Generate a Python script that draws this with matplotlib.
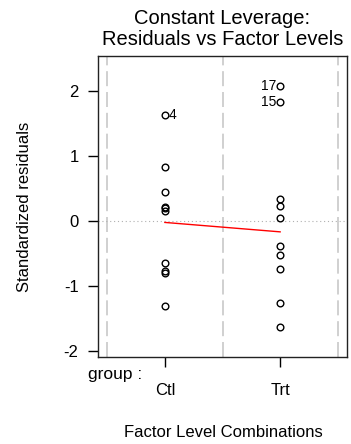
import matplotlib
matplotlib.use("Agg")
import matplotlib.pyplot as plt

plt.rcParams['font.family'] = ['Liberation Sans', 'DejaVu Sans']

# standardized residuals per observation (obs 1-10 = Ctl, 11-20 = Trt)
levels = ["Ctl", "Trt"]
ctl_resid = [-1.305, 0.829, 0.224, 1.632, -0.805, -0.639, 0.209, -0.760, 0.451, 0.163]
trt_resid = [0.226, -0.743, -0.380, -1.621, 1.830, -1.258, 2.072, 0.347, -0.516, 0.044]
labelled_obs = [4, 15, 17]
smooth_y = [-0.02, -0.165]
boundaries = [0.5, 1.5, 2.5]

fig = plt.figure(figsize=(3.51, 4.44), dpi=100)
ax = fig.add_axes([98 / 351, 1 - 357 / 444, 249 / 351, 301 / 444])

for b in boundaries:
    ax.axvline(b, color="#c8c8c8", lw=1.2, ls=(0, (9, 3.5)), zorder=1)
ax.axhline(0, color="#b0b0b0", lw=0.8, ls=(0, (1, 2.5)), zorder=1)

resid = ctl_resid + trt_resid
xs = [1] * len(ctl_resid) + [2] * len(trt_resid)
ax.plot(xs, resid, ls="none", marker="o", ms=4.8, mfc="none", mec="black", mew=1.0, zorder=3)
ax.plot([1, 2], smooth_y, color="red", lw=1.0, zorder=2)

for obs in labelled_obs:
    x, y = xs[obs - 1], resid[obs - 1]
    if x < 1.5:
        ax.annotate(str(obs), (x, y), xytext=(3, 0), textcoords="offset points",
                    ha="left", va="center", fontsize=10)
    else:
        ax.annotate(str(obs), (x, y), xytext=(-3, 0), textcoords="offset points",
                    ha="right", va="center", fontsize=10)

ax.set_xlim(0.42, 2.58)
ax.set_ylim(-2.09, 2.54)
ax.set_yticks([-2, -1, 0, 1, 2])
ax.set_yticklabels(["-2", "-1", "0", "1", "2"])
ax.set_xticks([1, 2])
ax.set_xticklabels(levels)
ax.tick_params(axis="y", length=7, width=1, pad=7, labelsize=12)
ax.tick_params(axis="x", length=7, width=1, pad=12, labelsize=12)
for s in ax.spines.values():
    s.set_color("#222222")
    s.set_linewidth(1.0)

ax.set_title("Constant Leverage:\nResiduals vs Factor Levels", fontsize=14.5, linespacing=1.1, pad=8)
fig.text(88 / 351, 1 - 374 / 444, "group :", ha="left", va="center", fontsize=12.5)
fig.text(223 / 351, 1 - 432 / 444, "Factor Level Combinations", ha="center", va="center", fontsize=12)
fig.text(25 / 351, 0.5 * ((1 - 357 / 444) + (1 - 56 / 444)), "Standardized residuals",
         rotation=90, ha="center", va="center", fontsize=12)

fig.savefig("out.png", dpi=100)
